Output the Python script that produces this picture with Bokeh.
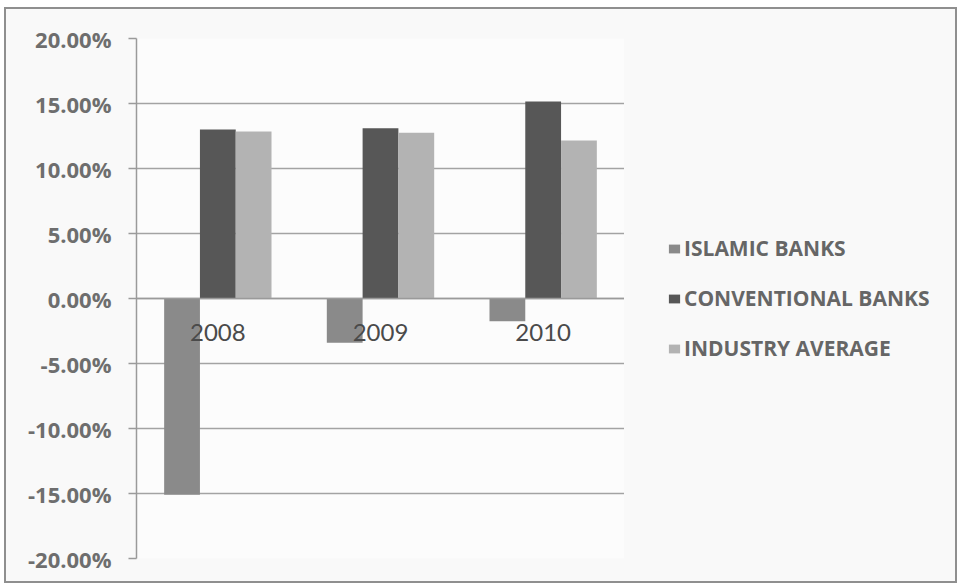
from bokeh.plotting import figure
from bokeh.layouts import row
from bokeh.models import (ColumnDataSource, FactorRange, Range1d, Legend, LegendItem,
                          PrintfTickFormatter, FixedTicker)
from bokeh.transform import dodge
from bokeh.embed import file_html
from bokeh.resources import INLINE

years = ["2008", "2009", "2010"]
islamic = [-15.1, -3.4, -1.75]
conventional = [13.0, 13.1, 15.15]
industry = [12.85, 12.75, 12.15]
series_names = ["ISLAMIC BANKS", "CONVENTIONAL BANKS", "INDUSTRY AVERAGE"]
y_ticks = [-20, -15, -10, -5, 0, 5, 10, 15, 20]

colors = ["#8a8a8a", "#575757", "#b3b3b3"]
BG = "#f9f9f9"

src = ColumnDataSource(dict(year=years, islamic=islamic,
                            conventional=conventional, industry=industry))

p = figure(width=618, height=572, x_range=FactorRange(*years, range_padding=0),
           y_range=Range1d(-20, 20), output_backend="svg", toolbar_location=None,
           min_border_left=130, min_border_top=29, min_border_bottom=23,
           min_border_right=0)
p.background_fill_color = "#fcfcfc"
p.border_fill_color = BG
p.outline_line_color = None

w = 0.22
r1 = p.vbar(x=dodge("year", -w, range=p.x_range), top="islamic", bottom=0, width=w,
            source=src, fill_color=colors[0], line_color=None)
r2 = p.vbar(x=dodge("year", 0, range=p.x_range), top="conventional", bottom=0, width=w,
            source=src, fill_color=colors[1], line_color=None)
r3 = p.vbar(x=dodge("year", w, range=p.x_range), top="industry", bottom=0, width=w,
            source=src, fill_color=colors[2], line_color=None)

# y axis
p.yaxis.ticker = FixedTicker(ticks=y_ticks)
p.yaxis.formatter = PrintfTickFormatter(format="%.2f%%")
p.yaxis.major_label_text_font = "Open Sans"
p.yaxis.major_label_text_font_style = "bold"
p.yaxis.major_label_text_font_size = "22px"
p.yaxis.major_label_text_color = "#6e6e6e"
p.yaxis.axis_line_color = "#9a9a9a"
p.yaxis.axis_line_width = 1.5
p.yaxis.major_tick_line_color = "#9a9a9a"
p.yaxis.major_tick_line_width = 1.5
p.yaxis.major_tick_out = 8
p.yaxis.major_tick_in = 0
p.yaxis.minor_tick_line_color = None
p.yaxis.major_label_standoff = 17

# x axis at zero
p.xaxis.fixed_location = 0
p.xaxis.axis_line_color = "#9a9a9a"
p.xaxis.axis_line_width = 1.5
p.xaxis.major_tick_line_color = None
p.xaxis.minor_tick_line_color = None
p.xaxis.major_label_standoff = 19
p.xaxis.major_label_text_font = "Lato"
p.xaxis.major_label_text_font_size = "24px"
p.xaxis.major_label_text_color = "#4a4a4a"

p.xgrid.grid_line_color = None
p.ygrid.ticker = FixedTicker(ticks=y_ticks)
p.ygrid.grid_line_color = "#a3a3a3"
p.ygrid.grid_line_width = 1.5

# legend panel (separate figure to the right of the plot)
lp = figure(width=331, height=572, x_range=Range1d(0, 1), y_range=Range1d(0, 1),
            x_axis_type=None, y_axis_type=None, output_backend="svg",
            toolbar_location=None, min_border=0)
lp.background_fill_color = BG
lp.border_fill_color = BG
lp.outline_line_color = None
lp.xgrid.visible = False
lp.ygrid.visible = False
# zero-size proxy glyphs, used only for the legend swatches
proxies = [lp.vbar(x=[0], top=[0], bottom=[0], width=0, fill_color=c, line_color=None)
           for c in colors]

legend = Legend(items=[LegendItem(label=n, renderers=[r]) for n, r in zip(series_names, proxies)],
                location=(43, 196))
legend.background_fill_alpha = 0
legend.border_line_color = None
legend.padding = 0
legend.margin = 0
legend.spacing = 22
legend.glyph_width = 14
legend.glyph_height = 11
legend.label_standoff = 3
legend.label_height = 20
legend.label_text_font = "Open Sans"
legend.label_text_font_style = "bold"
legend.label_text_font_size = "21px"
legend.label_text_color = "#666666"
lp.add_layout(legend, "center")

layout = row(p, lp)
layout.styles = {"border": "2px solid #8f8f8f", "margin-left": "4px", "margin-top": "7px",
                 "background-color": BG}

open("out.html", "w").write(file_html(layout, INLINE))
